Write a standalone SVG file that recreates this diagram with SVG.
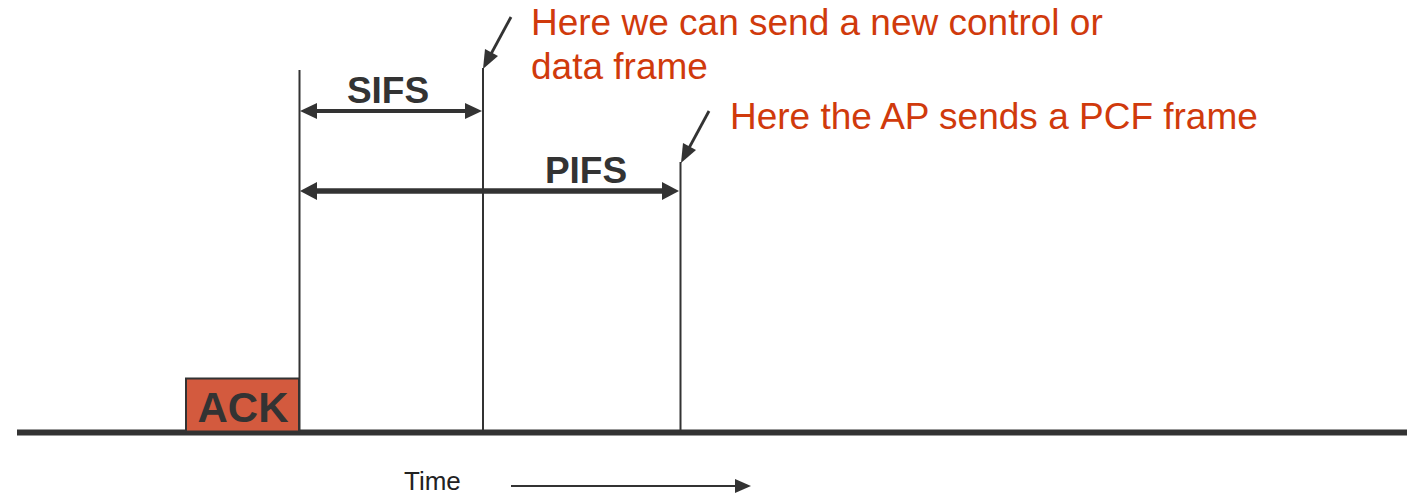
<svg xmlns="http://www.w3.org/2000/svg" width="1407" height="496" viewBox="0 0 1407 496">
<style>
.dk{fill:#333333}
.ln{stroke:#333333;fill:none}
.red{fill:#D03A0C;font-family:"Liberation Sans",Arial,sans-serif;font-size:37px}
.lbl{fill:#333333;font-family:"Liberation Sans",Arial,sans-serif;font-weight:bold}
</style>
<rect width="1407" height="496" fill="#ffffff"/>
<g id="connectors">
<line class="ln" x1="17" y1="432.5" x2="1407" y2="432.5" stroke-width="6"/>
<line class="ln" x1="299.5" y1="70" x2="299.5" y2="432" stroke-width="2"/>
<line class="ln" x1="483" y1="68" x2="483" y2="432" stroke-width="2"/>
<line class="ln" x1="680.5" y1="162" x2="680.5" y2="432" stroke-width="2"/>
<line class="ln" x1="312" y1="111" x2="470" y2="111" stroke-width="4"/>
<polygon class="dk" points="300,111 317,103 317,119"/>
<polygon class="dk" points="482,111 465,103 465,119"/>
<line class="ln" x1="312" y1="191" x2="668" y2="191" stroke-width="5.5"/>
<polygon class="dk" points="300,191 317,182 317,200"/>
<polygon class="dk" points="679,191 662,182 662,200"/>
<line class="ln" x1="511" y1="17" x2="491" y2="54" stroke-width="2.8"/>
<polygon class="dk" points="483,69 485,49 498,56"/>
<line class="ln" x1="709" y1="111" x2="689" y2="148" stroke-width="2.8"/>
<polygon class="dk" points="681,163 683,143 696,150"/>
<line class="ln" x1="511" y1="486" x2="738" y2="486" stroke-width="2"/>
<polygon class="dk" points="751,486 735,479 735,493"/>
</g>
<g id="ack">
<rect x="186" y="378.5" width="113" height="53" fill="#D35A3E" stroke="#333333" stroke-width="2"/>
<text class="lbl" x="243" y="422" font-size="42" text-anchor="middle">ACK</text>
</g>
<g id="sifs">
<text class="lbl" x="388" y="103" font-size="37" text-anchor="middle">SIFS</text>
</g>
<g id="pifs">
<text class="lbl" x="586" y="183" font-size="37" text-anchor="middle">PIFS</text>
</g>
<g id="note1">
<text class="red" x="531" y="35">Here we can send a new control or</text>
<text class="red" x="531" y="79">data frame</text>
</g>
<g id="note2">
<text class="red" x="730" y="129">Here the AP sends a PCF frame</text>
</g>
<g id="time">
<text x="404" y="490" font-family="Liberation Sans,Arial,sans-serif" font-size="26" fill="#222222">Time</text>
</g>
</svg>
